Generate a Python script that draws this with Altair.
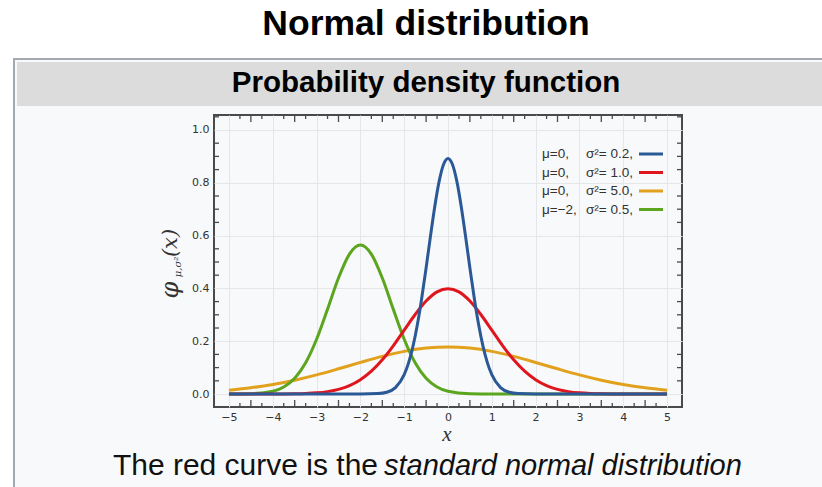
import altair as alt
import pandas as pd

# ---- data ----
blue_x = [-5, -2.0, -1.6, -1.4, -1.2, -1.0, -0.9, -0.8, -0.7, -0.6, -0.5, -0.4, -0.3, -0.2, -0.1, 0.0,
          0.1, 0.2, 0.3, 0.4, 0.5, 0.6, 0.7, 0.8, 0.9, 1.0, 1.2, 1.4, 1.6, 2.0, 5]
blue_y = [0, 0, 0.0015, 0.0066, 0.0244, 0.0732, 0.1178, 0.1801, 0.2621, 0.3627, 0.4775, 0.5980, 0.7123, 0.8071, 0.8700, 0.8921,
          0.8700, 0.8071, 0.7123, 0.5980, 0.4775, 0.3627, 0.2621, 0.1801, 0.1178, 0.0732, 0.0244, 0.0066, 0.0015, 0, 0]

red_x = [-5, -4, -3.5, -3.25, -3.0, -2.75, -2.5, -2.25, -2.0, -1.75, -1.5, -1.25, -1.0, -0.75, -0.5, -0.25, 0.0,
         0.25, 0.5, 0.75, 1.0, 1.25, 1.5, 1.75, 2.0, 2.25, 2.5, 2.75, 3.0, 3.25, 3.5, 4, 5]
red_y = [0, 0.0001, 0.0009, 0.0020, 0.0044, 0.0091, 0.0175, 0.0317, 0.0540, 0.0863, 0.1295, 0.1826, 0.2420, 0.3011, 0.3521, 0.3867, 0.3989,
         0.3867, 0.3521, 0.3011, 0.2420, 0.1826, 0.1295, 0.0863, 0.0540, 0.0317, 0.0175, 0.0091, 0.0044, 0.0020, 0.0009, 0.0001, 0]

orange_x = [-5, -4.5, -4, -3.5, -3, -2.5, -2, -1.5, -1, -0.5, 0, 0.5, 1, 1.5, 2, 2.5, 3, 3.5, 4, 4.5, 5]
orange_y = [0.0146, 0.0236, 0.0360, 0.0524, 0.0725, 0.0955, 0.1196, 0.1425, 0.1614, 0.1740, 0.1784,
            0.1740, 0.1614, 0.1425, 0.1196, 0.0955, 0.0725, 0.0524, 0.0360, 0.0236, 0.0146]

green_x = [-5, -4.5, -4, -3.75, -3.5, -3.25, -3, -2.75, -2.5, -2.25, -2, -1.75, -1.5, -1.25, -1, -0.75, -0.5, -0.25, 0, 0.5, 1, 5]
green_y = [0.0001, 0.0011, 0.0103, 0.0264, 0.0595, 0.1183, 0.2076, 0.3215, 0.4394, 0.5300, 0.5642,
           0.5300, 0.4394, 0.3215, 0.2076, 0.1183, 0.0595, 0.0264, 0.0103, 0.0011, 0.0001, 0]

series_colors = {"orange": "#e2a11c", "green": "#5ca51f", "red": "#e0161f", "blue": "#2b5896"}

legend_mu = ["μ=0,", "μ=0,", "μ=0,", "μ=−2,"]
legend_var = ["σ²= 0.2,", "σ²= 1.0,", "σ²= 5.0,", "σ²= 0.5,"]
legend_keys = ["blue", "red", "orange", "green"]

x_tick_labels = [-5, -4, -3, -2, -1, 0, 1, 2, 3, 4, 5]
y_tick_labels = [0.0, 0.2, 0.4, 0.6, 0.8, 1.0]

title_text = "Normal distribution"
header_text = "Probability density function"
caption_plain = "The red curve is the"
caption_italic = "standard normal distribution"

# ---- layout ----
W, H = 468, 292
AXC = "#4a4a4a"

xenc = alt.X("x:Q",
             scale=alt.Scale(domain=[-5.342, 5.342], nice=False, zero=False),
             axis=alt.Axis(values=x_tick_labels, title=None, ticks=False, domain=False,
                           labelPadding=4, grid=True, format="d"))
yenc = alt.Y("y:Q",
             scale=alt.Scale(domain=[-0.0492, 1.0568], nice=False, zero=False),
             axis=alt.Axis(values=y_tick_labels, title=None, ticks=False, domain=False,
                           labelPadding=5, grid=True, format=".1f"))

one = pd.DataFrame({"a": [0]})


def txt(text, x, y, size, **kw):
    return alt.Chart(one).mark_text(text=text, **kw, fontSize=size).encode(
        x=alt.value(x), y=alt.value(y))


def rect(x1, x2, y1, y2, color):
    return alt.Chart(one).mark_rect(color=color).encode(
        x=alt.value(x1), x2=alt.value(x2), y=alt.value(y1), y2=alt.value(y2))


layers = []
# page pieces outside the plot
layers.append(rect(-214, 620, -115, -57, "#ffffff"))
layers.append(rect(-214, -201, -115, 380, "#ffffff"))
layers.append(rect(-201, -199, -57, 380, "#a2a9b1"))
layers.append(rect(-201, 620, -57, -55, "#a2a9b1"))
layers.append(rect(-197, 620, -53, -9, "#dcdcdc"))

layers.append(txt(title_text, 212, -91, 35.5, font="Liberation Sans", fontWeight="bold",
                  align="center", baseline="middle", color="#000000"))
layers.append(txt(header_text, 212, -32, 29.5, font="Liberation Sans", fontWeight="bold",
                  align="center", baseline="middle", color="#000000"))
layers.append(txt(caption_plain, 164, 351, 30, font="Liberation Sans",
                  align="right", baseline="middle", color="#111111"))
layers.append(txt(caption_italic, 170, 351, 29, font="Liberation Sans", fontStyle="italic",
                  align="left", baseline="middle", color="#111111"))

# axis titles
layers.append(txt("x", 233, 320, 21, font="Liberation Serif", fontStyle="italic",
                  align="center", baseline="middle", color="#333333"))
layers.append(txt("φ", -43, 175, 24, font="DejaVu Serif", fontStyle="italic",
                  align="center", baseline="middle", angle=270, color="#333333"))
layers.append(txt("μ,σ²", -36, 152, 10, font="DejaVu Serif", fontStyle="italic",
                  align="center", baseline="middle", angle=270, color="#333333"))
layers.append(txt("(x)", -43, 128, 21, font="DejaVu Serif", fontStyle="italic",
                  align="center", baseline="middle", angle=270, color="#333333"))

# minor ticks
xt_short = pd.DataFrame({"x": [k + f for k in range(-5, 5) for f in (0.25, 0.75)]})
xt_long = pd.DataFrame({"x": [k + 0.5 for k in range(-5, 5)]})
yt = pd.DataFrame({"y": [round(0.05 * i, 2) for i in range(1, 22) if i % 4 != 0]})
for df, ln in ((xt_short, 4), (xt_long, 7)):
    layers.append(alt.Chart(df).mark_rule(color=AXC, strokeWidth=1.3).encode(
        x=xenc, y=alt.value(H), y2=alt.value(H - ln)))
    layers.append(alt.Chart(df).mark_rule(color=AXC, strokeWidth=1.3).encode(
        x=xenc, y=alt.value(0), y2=alt.value(ln)))
layers.append(alt.Chart(yt).mark_rule(color=AXC, strokeWidth=1.3).encode(
    y=yenc, x=alt.value(0), x2=alt.value(5)))
layers.append(alt.Chart(yt).mark_rule(color=AXC, strokeWidth=1.3).encode(
    y=yenc, x=alt.value(W), x2=alt.value(W - 5)))

# curves (draw order orange, green, red, blue)
curves = {"orange": (orange_x, orange_y), "green": (green_x, green_y),
          "red": (red_x, red_y), "blue": (blue_x, blue_y)}
for key, (xs, ys) in curves.items():
    df = pd.DataFrame({"x": xs, "y": ys})
    layers.append(alt.Chart(df).mark_line(color=series_colors[key], strokeWidth=3,
                                          interpolate="monotone").encode(x=xenc, y=yenc))

# legend
for i, key in enumerate(legend_keys):
    yy = 39 + i * 18.5
    layers.append(txt(legend_mu[i], 328, yy, 13.5, font="Liberation Sans", align="left",
                      baseline="middle", color="#333333"))
    layers.append(txt(legend_var[i], 419, yy, 13.5, font="Liberation Sans", align="right",
                      baseline="middle", color="#333333"))
    layers.append(alt.Chart(one).mark_rule(color=series_colors[key], strokeWidth=3).encode(
        x=alt.value(425), x2=alt.value(449), y=alt.value(yy), y2=alt.value(yy)))

chart = alt.layer(*layers).properties(
    width=W, height=H,
    padding={"left": 214, "top": 115, "right": 140, "bottom": 80},
    autosize=alt.AutoSizeParams(type="none"),
    background="#f8f9fa",
).configure_view(
    stroke=AXC, strokeWidth=2, fill="#f8f9fa"
).configure_axis(
    labelFont="DejaVu Sans", labelFontSize=11, labelColor="#333333",
    gridColor="#e4e6e8", gridWidth=1
)

chart.save("out.html", embed_options={"renderer": "svg", "actions": False})
